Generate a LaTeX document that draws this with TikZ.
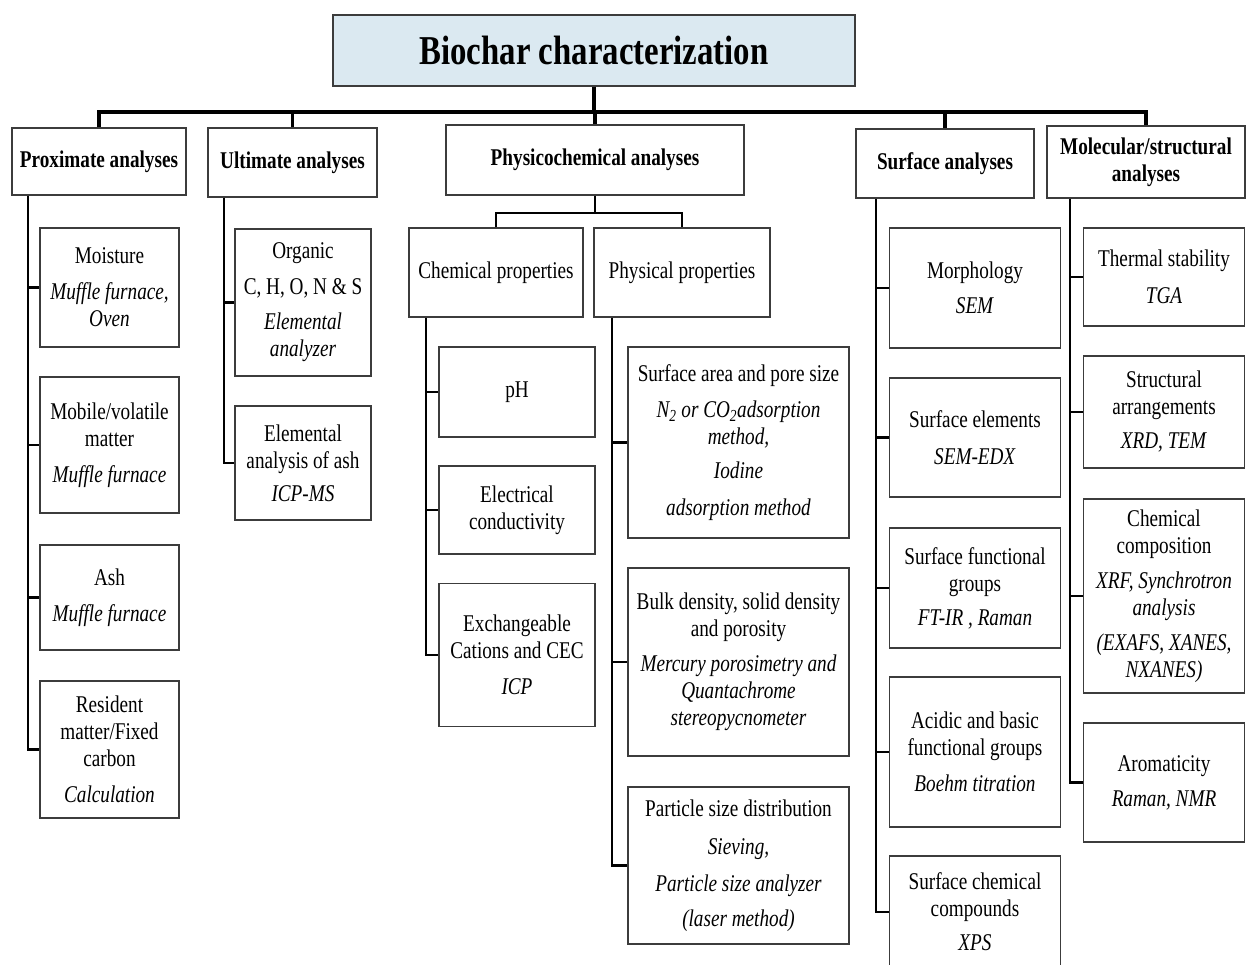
\documentclass[tikz,border=0pt]{standalone}
\usepackage{fontspec}
\setmainfont{Liberation Serif}[FakeStretch=0.8]
\definecolor{titlefill}{RGB}{219,233,241}
\definecolor{boxline}{RGB}{60,60,60}
\begin{document}
\begin{tikzpicture}[x=1pt,y=-1pt,
  box/.style={draw=boxline, line width=1.4pt, inner sep=0pt, align=center,
    font=\fontsize{24}{27}\selectfont},
  hdr/.style={box, font=\fontsize{24}{27}\selectfont\bfseries},
  conn/.style={draw=black, line width=2.6pt},
  bus/.style={draw=black, line width=3.2pt}]
\useasboundingbox (0,0) rectangle (1247,965);

% title
\node[box, fill=titlefill, minimum width=522, minimum height=71,
  font=\fontsize{41}{46}\selectfont\bfseries] (title) at (594,50.5) {Biochar characterization};

% level 1
\node[hdr, minimum width=174, minimum height=67] (prox) at (99,161.5) {Proximate analyses};
\node[hdr, minimum width=169, minimum height=69] (ult) at (292.5,162.5) {Ultimate analyses};
\node[hdr, minimum width=298, minimum height=70] (physico) at (595,160) {Physicochemical analyses};
\node[hdr, minimum width=178, minimum height=69] (surf) at (945,163.5) {Surface analyses};
\node[hdr, minimum width=198, minimum height=72] (mol) at (1146,162) {Molecular/structural\\analyses};

% proximate children
\node[box, minimum width=139, minimum height=119] (moist) at (109.5,287.5)
  {Moisture\\[9pt]\textit{Muffle furnace,}\\\textit{Oven}};
\node[box, minimum width=139, minimum height=136] (mobile) at (109.5,445)
  {Mobile/volatile\\matter\\[9pt]\textit{Muffle furnace}};
\node[box, minimum width=139, minimum height=105] (ash) at (109.5,597.5)
  {Ash\\[9pt]\textit{Muffle furnace}};
\node[box, minimum width=139, minimum height=137] (resid) at (109.5,749.5)
  {Resident\\matter/Fixed\\carbon\\[9pt]\textit{Calculation}};

% ultimate children
\node[box, minimum width=136, minimum height=147] (organic) at (303,302.5)
  {Organic\\[9pt]C, H, O, N \& S\\[8pt]\textit{Elemental}\\\textit{analyzer}};
\node[box, minimum width=136, minimum height=114] (elash) at (303,463)
  {Elemental\\analysis of ash\\[6pt]\textit{ICP-MS}};

% physicochemical
\node[box, minimum width=174, minimum height=89] (chem) at (496,272.5) {Chemical properties};
\node[box, minimum width=176, minimum height=89] (phys) at (682,272.5) {Physical properties};

\node[box, minimum width=156, minimum height=90] (ph) at (517,392) {pH};
\node[box, minimum width=156, minimum height=88] (elec) at (517,510) {Electrical\\conductivity};
\node[box, minimum width=156, minimum height=143] (exch) at (517,655)
  {Exchangeable\\Cations and CEC\\[9pt]\textit{ICP}};

\node[box, minimum width=221, minimum height=191] (sarea) at (738.5,442.5)
  {Surface area and pore size\\[9pt]\textit{N\textsubscript{2} or CO\textsubscript{2}adsorption}\\\textit{method,}\\[7pt]\textit{Iodine}\\[10pt]\textit{adsorption method}};
\node[box, minimum width=221, minimum height=188] (bulk) at (738.5,662)
  {Bulk density, solid density\\and porosity\\[8pt]\textit{Mercury porosimetry and}\\\textit{Quantachrome}\\\textit{stereopycnometer}};
\node[box, minimum width=221, minimum height=157] (psd) at (738.5,865.5)
  {Particle size distribution\\[11pt]\textit{Sieving,}\\[10pt]\textit{Particle size analyzer}\\[8pt]\textit{(laser method)}};

% surface children
\node[box, minimum width=171, minimum height=120] (morph) at (975,288)
  {Morphology\\[8pt]\textit{SEM}};
\node[box, minimum width=171, minimum height=119] (selem) at (975,437.5)
  {Surface elements\\[10pt]\textit{SEM-EDX}};
\node[box, minimum width=171, minimum height=120] (sfg) at (975,588)
  {Surface functional\\groups\\[7pt]\textit{FT-IR , Raman}};
\node[box, minimum width=171, minimum height=150] (acid) at (975,752)
  {Acidic and basic\\functional groups\\[9pt]\textit{Boehm titration}};
\node[box, minimum width=171, minimum height=112] (scc) at (975,912)
  {Surface chemical\\compounds\\[7pt]\textit{XPS}};

% molecular children
\node[box, minimum width=161, minimum height=98] (therm) at (1164,277)
  {Thermal stability\\[10pt]\textit{TGA}};
\node[box, minimum width=161, minimum height=112] (struct) at (1164,412)
  {Structural\\arrangements\\[7pt]\textit{XRD, TEM}};
\node[box, minimum width=161, minimum height=194] (ccomp) at (1164,596)
  {Chemical\\composition\\[8pt]\textit{XRF, Synchrotron}\\\textit{analysis}\\[8pt]\textit{(EXAFS, XANES,}\\\textit{NXANES)}};
\node[box, minimum width=161, minimum height=119] (arom) at (1164,782.5)
  {Aromaticity\\[8pt]\textit{Raman, NMR}};

% helper coordinates
\coordinate (busy) at (0,112);
\coordinate (suby) at (0,213);
\coordinate (proxx) at (28,0);
\coordinate (ultx) at (224,0);
\coordinate (chemx) at (426,0);
\coordinate (physx) at (612,0);
\coordinate (surfx) at (876,0);
\coordinate (molx) at (1070,0);

% main bus
\draw[bus] (title.south) -- (title.south |- busy);
\draw[bus] (prox.north) -- (prox.north |- busy) -- (mol.north |- busy) -- (mol.north);
\draw[bus] (ult.north) -- (ult.north |- busy);
\draw[bus] (physico.north) -- (physico.north |- busy);
\draw[bus] (surf.north) -- (surf.north |- busy);

% physicochemical split
\draw[conn] (physico.south) -- (physico.south |- suby);
\draw[conn] (chem.north) |- (phys.north |- suby) -- (phys.north);

% proximate spine
\draw[conn] (prox.south -| proxx) |- (resid.west);
\draw[conn] (moist.west -| proxx) -- (moist.west);
\draw[conn] (mobile.west -| proxx) -- (mobile.west);
\draw[conn] (ash.west -| proxx) -- (ash.west);

% ultimate spine
\draw[conn] (ult.south -| ultx) |- (elash.west);
\draw[conn] (organic.west -| ultx) -- (organic.west);

% chemical spine
\draw[conn] (chem.south -| chemx) |- (exch.west);
\draw[conn] (ph.west -| chemx) -- (ph.west);
\draw[conn] (elec.west -| chemx) -- (elec.west);

% physical spine
\draw[conn] (phys.south -| physx) |- (psd.west);
\draw[conn] (sarea.west -| physx) -- (sarea.west);
\draw[conn] (bulk.west -| physx) -- (bulk.west);

% surface spine
\draw[conn] (surf.south -| surfx) |- (scc.west);
\draw[conn] (morph.west -| surfx) -- (morph.west);
\draw[conn] (selem.west -| surfx) -- (selem.west);
\draw[conn] (sfg.west -| surfx) -- (sfg.west);
\draw[conn] (acid.west -| surfx) -- (acid.west);

% molecular spine
\draw[conn] (mol.south -| molx) |- (arom.west);
\draw[conn] (therm.west -| molx) -- (therm.west);
\draw[conn] (struct.west -| molx) -- (struct.west);
\draw[conn] (ccomp.west -| molx) -- (ccomp.west);
\end{tikzpicture}
\end{document}
